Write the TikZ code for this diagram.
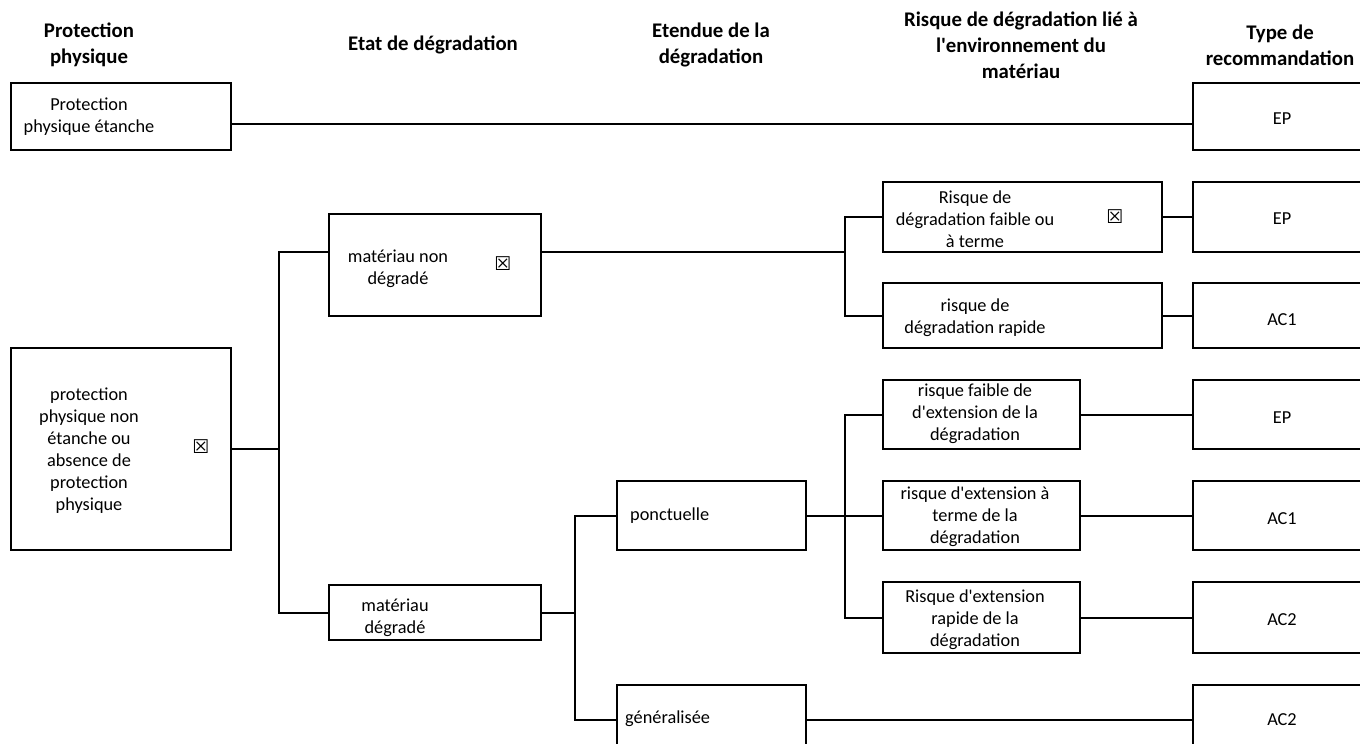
\documentclass[tikz,border=0pt]{standalone}
\usepackage{fontspec}
\setmainfont{Carlito}
\newfontfamily\symf{DejaVu Sans}
\begin{document}
\begin{tikzpicture}[x=1pt,y=-1pt,
  box/.style={draw, line width=2pt, rectangle, outer sep=0pt, inner sep=0pt, anchor=north west},
  conn/.style={line width=2pt},
  txt/.style={font=\fontsize{18.3}{22}\selectfont, align=center, inner sep=0pt, yshift=-2pt},
  ltxt/.style={font=\fontsize{18.3}{22}\selectfont, anchor=west, inner sep=0pt},
  hdr/.style={font=\fontsize{20.8}{26}\selectfont\bfseries, align=center, inner sep=0pt},
  chk/.style={font=\symf\fontsize{19}{19}\selectfont, inner sep=0pt}]
\useasboundingbox (0,0) rectangle (1360,744);
\clip (0,0) rectangle (1360,744);
% headers
\node[hdr] (h1) at (89,45) {Protection\\physique};
\node[hdr] (h2) at (433,45) {Etat de dégradation};
\node[hdr] (h3) at (711,45) {Etendue de la\\dégradation};
\node[hdr] (h4) at (1021,45) {Risque de dégradation lié à\\l\textquotesingle environnement du\\matériau};
\node[hdr] (h5) at (1280,45) {Type de\\recommandation};
% boxes
\node[box, minimum width=220pt, minimum height=67pt] (PE) at (11,83) {};
\node[box, minimum width=220pt, minimum height=202pt] (A) at (11,348) {};
\node[box, minimum width=212pt, minimum height=102pt] (B) at (329,214) {};
\node[box, minimum width=212pt, minimum height=55pt] (C) at (329,585) {};
\node[box, minimum width=189pt, minimum height=69pt] (D) at (617,481) {};
\node[box, minimum width=189pt, minimum height=69pt] (E) at (617,685) {};
\node[box, minimum width=279pt, minimum height=70pt] (R1) at (883,182) {};
\node[box, minimum width=279pt, minimum height=65pt] (R2) at (883,283) {};
\node[box, minimum width=197pt, minimum height=69pt] (F1) at (883,380) {};
\node[box, minimum width=197pt, minimum height=69pt] (F2) at (883,481) {};
\node[box, minimum width=197pt, minimum height=71pt] (F3) at (883,582) {};
\node[box, minimum width=180pt, minimum height=67pt] (T1) at (1193,83) {};
\node[box, minimum width=180pt, minimum height=70pt] (T2) at (1193,182) {};
\node[box, minimum width=180pt, minimum height=65pt] (T3) at (1193,283) {};
\node[box, minimum width=180pt, minimum height=69pt] (T4) at (1193,380) {};
\node[box, minimum width=180pt, minimum height=69pt] (T5) at (1193,481) {};
\node[box, minimum width=180pt, minimum height=71pt] (T6) at (1193,582) {};
\node[box, minimum width=180pt, minimum height=69pt] (T7) at (1193,685) {};
% texts
\node[txt] (tPE) at (89,115) {Protection\\physique étanche};
\node[txt] (tA) at (89,449) {protection\\physique non\\étanche ou\\absence de\\protection\\physique};
\node[chk] (cA) at (201,447) {☒};
\node[txt] (tB) at (398,267) {matériau non\\dégradé};
\node[chk] (cB) at (503,264) {☒};
\node[txt] (tC) at (395,616) {matériau\\dégradé};
\node[ltxt] (tD) at (630,516) {ponctuelle};
\node[ltxt] (tE) at (625,719) {généralisée};
\node[txt] (tR1) at (975,217) {Risque de\\dégradation faible ou\\à terme};
\node[chk] (cR1) at (1115,217) {☒};
\node[txt] (tR2) at (975,316) {risque de\\dégradation rapide};
\node[txt] (tF1) at (975,412) {risque faible de\\d\textquotesingle extension de la\\dégradation};
\node[txt] (tF2) at (975,515) {risque d\textquotesingle extension à\\terme de la\\dégradation};
\node[txt] (tF3) at (975,618) {Risque d\textquotesingle extension\\rapide de la\\dégradation};
\node[txt] (tT1) at (1282,117) {EP};
\node[txt] (tT2) at (1282,217) {EP};
\node[txt] (tT3) at (1282,318) {AC1};
\node[txt] (tT4) at (1282,416) {EP};
\node[txt] (tT5) at (1282,517) {AC1};
\node[txt] (tT6) at (1282,618) {AC2};
\node[txt] (tT7) at (1282,718) {AC2};
% junctions
\coordinate (jA) at (279,449);
\coordinate (jB) at (845,252);
\coordinate (jC) at (575,612.5);
\coordinate (jD) at (845,515.5);
% connectors
\draw[conn] ([yshift=-7.5pt]PE.east) -- ([yshift=-7.5pt]T1.west);
\draw[conn] (A.east) -- (jA);
\draw[conn] ([yshift=13pt]B.west) -| (jA) |- (C.west);
\draw[conn] ([yshift=13pt]B.east) -- (jB);
\draw[conn] (R1.west) -| (jB) |- (R2.west);
\draw[conn] (C.east) -- (jC);
\draw[conn] (D.west) -| (jC) |- (E.west);
\draw[conn] (D.east) -- (jD) -- (F2.west);
\draw[conn] (F1.west) -| (jD) |- (F3.west);
\draw[conn] (R1.east) -- (T2.west);
\draw[conn] (R2.east) -- (T3.west);
\draw[conn] (F1.east) -- (T4.west);
\draw[conn] (F2.east) -- (T5.west);
\draw[conn] (F3.east) -- (T6.west);
\draw[conn] (E.east) -- (T7.west);
\end{tikzpicture}
\end{document}
